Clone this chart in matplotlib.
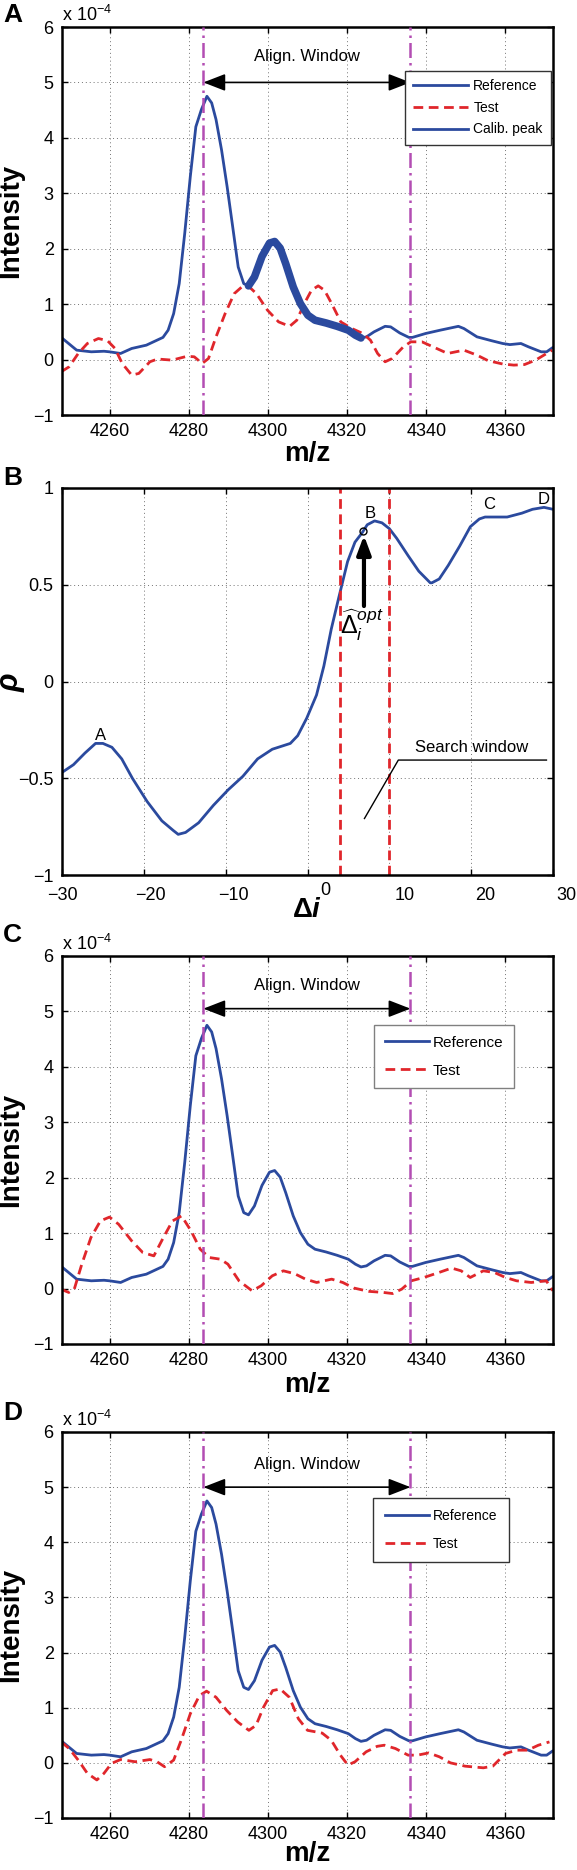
import numpy as np
import matplotlib.pyplot as plt
from matplotlib.lines import Line2D
from matplotlib.ticker import FuncFormatter

plt.rcParams['font.family'] = ['Liberation Sans', 'DejaVu Sans']
plt.rcParams['mathtext.fontset'] = 'custom'
plt.rcParams['mathtext.rm'] = 'Liberation Sans'
plt.rcParams['mathtext.it'] = 'Liberation Sans:italic'
plt.rcParams['mathtext.bf'] = 'Liberation Sans:bold'
plt.rcParams['mathtext.bfit'] = 'Liberation Sans:bold:italic'

# reference spectrum (intensity in units of 1e-4), same in A, C, D
ref_mz = [4247.8, 4251.7, 4255.4, 4258.6, 4260.0, 4262.8, 4265.6, 4269.3, 4273.5, 4274.8,
          4276.2, 4277.6, 4279.0, 4280.4, 4281.8, 4283.2, 4284.6, 4285.8, 4286.9, 4288.3,
          4289.7, 4291.1, 4292.5, 4293.9, 4295.1, 4296.6, 4298.5, 4300.4, 4301.7, 4303.1,
          4304.5, 4306.4, 4308.2, 4310.1, 4311.9, 4314.7, 4317.5, 4320.3, 4322.1, 4323.5,
          4324.9, 4326.8, 4329.6, 4331.0, 4333.3, 4335.6, 4336.5, 4339.8, 4343.5, 4348.1,
          4349.5, 4352.8, 4356.5, 4359.3, 4361.1, 4363.9, 4365.8, 4369.0, 4370.4, 4371.8]
ref_int = [0.40, 0.17, 0.14, 0.15, 0.14, 0.11, 0.20, 0.26, 0.40, 0.53,
           0.83, 1.37, 2.28, 3.30, 4.20, 4.51, 4.75, 4.63, 4.33, 3.78,
           3.12, 2.40, 1.67, 1.37, 1.33, 1.49, 1.86, 2.10, 2.13, 2.01,
           1.73, 1.31, 1.01, 0.80, 0.71, 0.66, 0.60, 0.53, 0.44, 0.39,
           0.41, 0.50, 0.60, 0.59, 0.48, 0.40, 0.40, 0.47, 0.53, 0.60,
           0.56, 0.41, 0.34, 0.29, 0.27, 0.29, 0.23, 0.14, 0.14, 0.21]

# test spectrum before alignment (A)
test_a_mz = [4247.8, 4249.8, 4252.1, 4254.4, 4257.2, 4259.5, 4261.4, 4263.2, 4265.6, 4267.4,
             4270.2, 4272.1, 4275.8, 4279.6, 4281.4, 4283.4, 4285.0, 4286.9, 4289.2, 4291.5,
             4293.4, 4295.3, 4297.1, 4299.9, 4302.7, 4305.5, 4307.3, 4309.2, 4311.0, 4312.7,
             4314.3, 4316.1, 4318.4, 4321.2, 4324.0, 4325.9, 4327.7, 4329.6, 4331.4, 4334.2,
             4336.1, 4338.9, 4341.7, 4345.4, 4349.5, 4352.8, 4355.6, 4359.3, 4362.1, 4364.8,
             4367.6, 4370.4, 4371.8]
test_a_int = [-0.22, -0.13, 0.11, 0.29, 0.38, 0.34, 0.20, -0.07, -0.28, -0.25,
              -0.04, 0.01, -0.01, 0.06, 0.05, -0.07, 0.02, 0.41, 0.83, 1.19,
              1.31, 1.31, 1.19, 0.89, 0.68, 0.60, 0.71, 1.01, 1.25, 1.33,
              1.25, 1.01, 0.68, 0.56, 0.47, 0.35, 0.11, -0.04, 0.02, 0.23,
              0.32, 0.32, 0.23, 0.11, 0.17, 0.08, -0.02, -0.08, -0.10, -0.09,
              -0.01, 0.11, 0.17]

# test spectrum, wrong shift (C)
test_c_mz = [4247.7, 4249.7, 4251.1, 4253.0, 4255.3, 4257.7, 4260.0, 4262.3, 4265.6, 4268.4,
             4271.2, 4273.6, 4275.9, 4278.2, 4280.6, 4282.9, 4285.2, 4288.0, 4289.9, 4292.7,
             4296.0, 4298.3, 4301.1, 4303.9, 4306.7, 4309.5, 4312.3, 4316.1, 4318.9, 4321.7,
             4325.4, 4329.2, 4331.5, 4333.8, 4336.2, 4339.4, 4343.2, 4346.4, 4348.8, 4351.1,
             4354.4, 4357.2, 4360.0, 4362.8, 4366.5, 4370.3, 4372.0]
test_c_int = [-0.01, -0.07, -0.01, 0.44, 0.92, 1.22, 1.29, 1.16, 0.86, 0.65,
              0.59, 0.92, 1.22, 1.31, 1.04, 0.71, 0.56, 0.53, 0.44, 0.14,
              -0.04, 0.05, 0.23, 0.32, 0.27, 0.17, 0.11, 0.17, 0.11, 0.01,
              -0.05, -0.07, -0.09, -0.01, 0.14, 0.20, 0.29, 0.37, 0.32, 0.20,
              0.32, 0.29, 0.20, 0.14, 0.11, 0.14, -0.04]

# test spectrum, optimal shift (D)
test_d_mz = [4247.8, 4249.8, 4252.1, 4254.4, 4256.8, 4258.6, 4260.5, 4262.8, 4266.5, 4270.2,
             4272.0, 4273.9, 4276.2, 4278.1, 4280.4, 4282.7, 4284.5, 4286.9, 4289.6, 4292.4,
             4295.2, 4297.0, 4298.9, 4301.2, 4303.1, 4305.4, 4307.7, 4310.0, 4313.7, 4316.0,
             4318.3, 4320.2, 4322.0, 4324.8, 4327.6, 4329.4, 4332.2, 4335.4, 4337.8, 4340.6,
             4343.3, 4346.1, 4349.8, 4354.4, 4356.8, 4360.0, 4362.8, 4365.6, 4368.3, 4371.1]
test_d_int = [0.38, 0.26, 0.05, -0.19, -0.31, -0.19, -0.01, 0.06, 0.02, 0.06,
              0.02, -0.07, 0.05, 0.41, 0.89, 1.22, 1.30, 1.19, 0.95, 0.74,
              0.59, 0.68, 1.01, 1.31, 1.34, 1.19, 0.80, 0.59, 0.54, 0.41,
              0.14, -0.04, 0.02, 0.20, 0.30, 0.32, 0.26, 0.14, 0.14, 0.18,
              0.11, 0.00, -0.06, -0.09, -0.06, 0.17, 0.23, 0.23, 0.32, 0.38]

# correlation vs shift (B)
shift = [-30.0, -28.6, -27.2, -25.9, -25.0, -23.9, -22.7, -21.4, -19.6, -17.8,
         -16.4, -15.8, -14.9, -13.3, -11.5, -9.7, -7.9, -6.1, -4.3, -2.1,
         -1.2, -0.1, 1.1, 2.0, 2.9, 3.8, 4.9, 5.8, 6.7, 7.3,
         8.2, 9.1, 10.0, 10.9, 12.3, 13.6, 15.0, 15.2, 16.1, 17.2,
         18.6, 19.9, 21.0, 21.7, 23.1, 24.4, 25.3, 26.2, 27.5, 28.9, 30.0]
rho = [-0.47, -0.43, -0.37, -0.32, -0.32, -0.34, -0.40, -0.50, -0.62, -0.72,
       -0.77, -0.79, -0.78, -0.73, -0.64, -0.56, -0.49, -0.40, -0.35, -0.32,
       -0.28, -0.19, -0.07, 0.08, 0.27, 0.43, 0.62, 0.72, 0.77, 0.81,
       0.83, 0.82, 0.79, 0.74, 0.65, 0.57, 0.51, 0.51, 0.53, 0.60,
       0.70, 0.80, 0.84, 0.85, 0.85, 0.85, 0.86, 0.87, 0.89, 0.90, 0.89]

peak_labels = ['A', 'B', 'C', 'D']
peak_x = [-25.3, 7.7, 22.2, 28.8]
peak_y = [-0.28, 0.87, 0.913, 0.942]

b_xticks = [-30, -20, -10, 0, 10, 20, 30]
# the tick labels in panel B sit a little off their ticks (pixels right, up)
b_xtick_shift = [(0, 0), (7, 0), (8, 0), (18, 5), (15, 0), (14, 0), (13, 0)]

win_lo, win_hi = 4283.7, 4336.0
calib_lo, calib_hi = 4294.5, 4324.0
search_lo, search_hi = 4.0, 10.0
opt_shift, opt_rho = 6.8, 0.78

BLUE = '#2B4A9E'
RED = '#E0262B'
MAG = '#B34DB3'

fig = plt.figure(figsize=(5.77, 18.70), dpi=100)
H = 1870.0
W = 577.0
L = 62 / W
AW = (553 - 62) / W
PX = 0.72  # points per pixel at 100 dpi


def make_ax(top, bottom):
    return fig.add_axes([L, 1 - bottom / H, AW, (bottom - top) / H])


def fmt(v, p):
    return ('%g' % v).replace('-', '\u2212')


def style(ax):
    ax.tick_params(direction='in', top=True, right=True, length=4, width=1,
                   labelsize=13, pad=6)
    ax.grid(True, linestyle=(0, (1, 3)), color='0.45', lw=0.7)
    for s in ax.spines.values():
        s.set_linewidth(1.8)
    ax.yaxis.set_major_formatter(FuncFormatter(fmt))
    ax.xaxis.set_major_formatter(FuncFormatter(fmt))


def spectrum_panel(ax, test_mz, test_int, arrow_y, text_y, xlab_y):
    ax.plot(ref_mz, ref_int, color=BLUE, lw=2, label='Reference')
    ax.plot(test_mz, test_int, color=RED, lw=2, dashes=(3.5, 2), label='Test')
    for xv in (win_lo, win_hi):
        ax.axvline(xv, color=MAG, lw=1.8, linestyle=(0, (6, 2, 1, 2)), zorder=3)
    ax.annotate('', xy=(win_lo, arrow_y), xytext=(win_hi, arrow_y),
                arrowprops=dict(arrowstyle='<|-|>,head_length=0.9,head_width=0.35',
                                color='k', lw=1.2, mutation_scale=15,
                                shrinkA=0, shrinkB=0))
    ax.text((win_lo + win_hi) / 2, text_y, 'Align. Window', ha='center', va='center',
            fontsize=12)
    ax.set_xlim(4248, 4372)
    ax.set_ylim(-1, 6)
    ax.set_xticks(range(4260, 4361, 20))
    ax.set_yticks(range(-1, 7))
    style(ax)
    ax.set_ylabel('Intensity', fontsize=20, fontweight='bold')
    ax.yaxis.set_label_coords(-0.077, 0.5)
    ax.set_xlabel('m/z', fontsize=20, fontweight='bold', va='baseline')
    ax.xaxis.set_label_coords(0.5, xlab_y)
    ax.text(0.0, 1.005, 'x 10$^{\\mathregular{\u22124}}$', transform=ax.transAxes,
            fontsize=13, ha='left', va='bottom')


# ---- A ----
axA = make_ax(27, 415)
spectrum_panel(axA, test_a_mz, test_a_int, 5.0, 5.46, -0.119)
cm = [m for m in ref_mz if calib_lo <= m <= calib_hi]
ci = [v for m, v in zip(ref_mz, ref_int) if calib_lo <= m <= calib_hi]
axA.plot(cm, ci, color=BLUE, lw=5.5, solid_capstyle='round')
hA = [Line2D([], [], color=BLUE, lw=2), Line2D([], [], color=RED, lw=2, dashes=(3.5, 2)),
      Line2D([], [], color=BLUE, lw=2)]
legA = axA.legend(hA, ['Reference', 'Test', 'Calib. peak'], loc='upper right',
                  bbox_to_anchor=(0.996, 0.887), fontsize=10, handlelength=4,
                  handletextpad=0.35, borderpad=0.6, labelspacing=0.55, fancybox=False,
                  edgecolor='0.2', framealpha=1, borderaxespad=0)
legA.get_frame().set_linewidth(1)
legA.set_zorder(5)

# ---- B ----
axB = make_ax(488, 875)
axB.plot(shift, rho, color=BLUE, lw=2)
for xv in (search_lo, search_hi):
    axB.axvline(xv, color=RED, lw=2, dashes=(3.5, 2))
axB.plot([opt_shift], [opt_rho], 'o', mfc='none', mec='k', ms=5, mew=1)
axB.annotate('', xy=(6.9, 0.755), xytext=(6.9, 0.39),
             arrowprops=dict(arrowstyle='-|>,head_length=0.75,head_width=0.28',
                             color='k', lw=3, mutation_scale=15, shrinkA=0, shrinkB=0))
axB.text(6.6, 0.29, r'$\widehat{\Delta}_{i}^{opt}$', ha='center', va='center', fontsize=18)
for lab, xv, yv in zip(peak_labels, peak_x, peak_y):
    axB.text(xv, yv, lab, ha='center', va='center', fontsize=12)
axB.plot([6.96, 11.1, 29.2], [-0.708, -0.406, -0.406], color='k', lw=1)
axB.text(13.1, -0.34, 'Search window', ha='left', va='center', fontsize=12)
axB.set_xlim(-30, 30)
axB.set_ylim(-1, 1)
axB.set_xticks(b_xticks)
axB.set_yticks([-1, -0.5, 0, 0.5, 1])
style(axB)
axB.tick_params(axis='x', labelbottom=False)
for xv, (dx, dy) in zip(b_xticks, b_xtick_shift):
    axB.annotate(fmt(xv, None), xy=(xv, 0), xycoords=('data', 'axes fraction'),
                 xytext=(dx * PX, (dy - 12) * PX), textcoords='offset points',
                 ha='center', va='top', fontsize=13, annotation_clip=False)
axB.set_ylabel(r'$\mathbfit{\rho}$', fontsize=22)
axB.yaxis.set_label_coords(-0.072, 0.5)
axB.set_xlabel(r'$\mathbf{\Delta}\mathbfit{i}$', fontsize=20)
axB.xaxis.set_label_coords(0.5, -0.056)

# ---- C ----
axC = make_ax(956, 1344)
spectrum_panel(axC, test_c_mz, test_c_int, 5.05, 5.46, -0.124)
legC = axC.legend(loc='upper right', bbox_to_anchor=(0.921, 0.822), fontsize=11,
                  handlelength=2.9, handletextpad=0.25, borderpad=0.7, labelspacing=0.9,
                  fancybox=False, edgecolor='0.5', framealpha=1, borderaxespad=0)
legC.get_frame().set_linewidth(1)
legC.set_zorder(5)

# ---- D ----
axD = make_ax(1432, 1818)
spectrum_panel(axD, test_d_mz, test_d_int, 5.0, 5.41, -0.112)
legD = axD.legend(loc='upper right', bbox_to_anchor=(0.910, 0.829), fontsize=10,
                  handlelength=3.2, handletextpad=0.3, borderpad=0.8, labelspacing=1.0,
                  fancybox=False, edgecolor='0.2', framealpha=1, borderaxespad=0)
legD.get_frame().set_linewidth(1)
legD.set_zorder(5)

# panel letters
for lab, base in zip(['A', 'B', 'C', 'D'], [22, 485, 942, 1420]):
    fig.text(3 / W, 1 - base / H, lab, fontsize=19, fontweight='bold', ha='left',
             va='baseline')

fig.savefig('out.png', dpi=100)
